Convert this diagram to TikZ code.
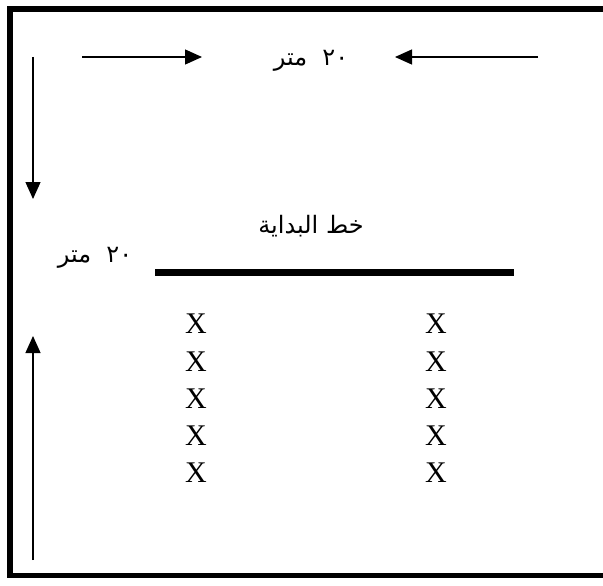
\documentclass[tikz,border=0pt]{standalone}
\usepackage{fontspec}
\setmainfont{Liberation Serif}
\newfontfamily\arabicfont[Script=Arabic]{DejaVu Sans}
\TeXXeTstate=1
\usetikzlibrary{arrows.meta}
\begin{document}
\begin{tikzpicture}[x=1pt,y=-1pt,
  arr/.style={line width=1.3pt,-{Triangle[length=17pt,width=15pt]}},
  frame/.style={line width=5.5pt,line join=miter},
  startline/.style={line width=7pt},
  xmark/.style={font=\fontsize{30}{30}\selectfont,inner sep=0pt},
  ar/.style={font=\arabicfont\fontsize{24}{28}\selectfont,inner sep=0pt}]
\useasboundingbox (0,0) rectangle (603,586);
\draw[frame] (608,9) -- (10,9) -- (10,575.5) -- (608,575.5);
% top label and arrows
\node[ar] (top) at (311,61) {\beginR\beginL ٢٠\endL\ \ متر\endR};
\coordinate (a1s) at (82,57);
\coordinate (a1e) at (202,57);
\coordinate (a2s) at (538,57);
\coordinate (a2e) at (395,57);
\draw[arr] (a1s) -- (a1e);
\draw[arr] (a2s) -- (a2e);
% side arrows
\coordinate (d1s) at (33,57);
\coordinate (d1e) at (33,199);
\coordinate (u1s) at (33,560);
\coordinate (u1e) at (33,336);
\draw[arr] (d1s) -- (d1e);
\draw[arr] (u1s) -- (u1e);
% side label
\node[ar] (side) at (95,258) {\beginR\beginL ٢٠\endL\ \ متر\endR};
% start line
\node[ar] (start) at (311,226) {\beginR خط البداية\endR};
\coordinate (l1) at (155,272.5);
\coordinate (l2) at (514,272.5);
\draw[startline] (l1) -- (l2);
% players
\foreach \i/\y in {1/324,2/362,3/399,4/436,5/473}{
  \node[xmark] (xa\i) at (196,\y) {X};
  \node[xmark] (xb\i) at (436,\y) {X};
}
\end{tikzpicture}
\end{document}
